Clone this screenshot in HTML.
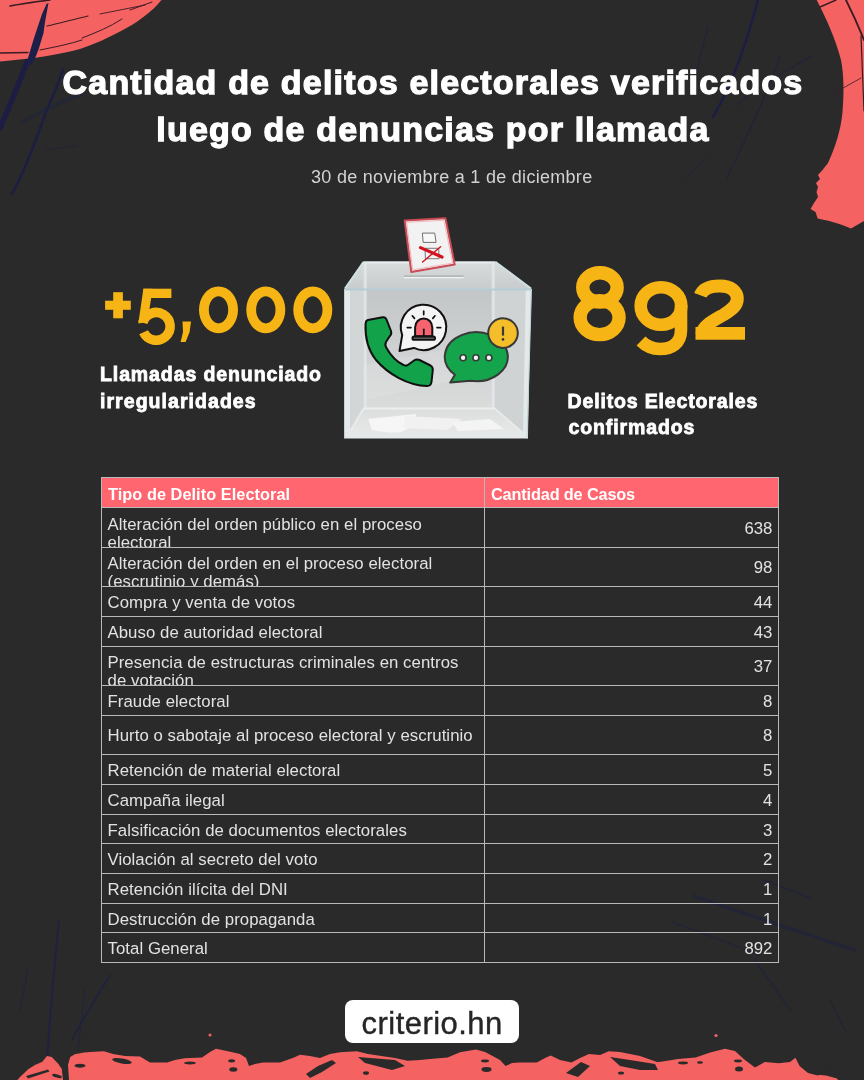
<!DOCTYPE html>
<html><head><meta charset="utf-8"><title>Delitos electorales</title>
<style>
html,body{margin:0;padding:0;}
body{width:864px;height:1080px;background:#2a2a2a;overflow:hidden;position:relative;font-family:"Liberation Sans",sans-serif;}
.a{position:absolute;}
.t{position:absolute;left:0;width:866px;text-align:center;color:#fff;font-weight:bold;font-size:34px;line-height:34px;letter-spacing:1.19px;white-space:nowrap;-webkit-text-stroke:1.3px #fff;}
.sub{position:absolute;left:311px;top:168px;color:#d2d2d2;font-size:18px;line-height:18px;letter-spacing:0.29px;white-space:nowrap;}
.lbl{position:absolute;color:#fff;font-weight:bold;font-size:19.5px;line-height:20px;letter-spacing:0.75px;white-space:nowrap;-webkit-text-stroke:0.8px #fff;}
.th{position:absolute;color:#fff;font-weight:bold;font-size:16.3px;line-height:16.3px;white-space:nowrap;}
.rw{position:absolute;left:102px;width:382px;overflow:hidden;}
.c1{position:absolute;left:5.5px;letter-spacing:0.06px;color:#e2e2e2;font-size:16.75px;line-height:16.75px;white-space:nowrap;}
.c2{position:absolute;right:91.6px;color:#e2e2e2;font-size:16.75px;line-height:16.75px;white-space:nowrap;}
.hl{position:absolute;left:101px;width:678px;height:1px;background:#b9b9b9;}
.vl{position:absolute;top:477px;width:1px;height:486px;background:#b9b9b9;}
</style></head><body>

<!-- background brushes -->
<svg class="a" style="left:0;top:0" width="864" height="1080" viewBox="0 0 864 1080">
  <defs><filter id="bl" x="-10%" y="-10%" width="120%" height="120%"><feGaussianBlur stdDeviation="0.5"/></filter></defs>
  <g fill="none" stroke="#1c1f48" stroke-linecap="round" filter="url(#bl)" opacity="0.85">
    <path d="M30,55 C27,62 24,70 20,80 C16,90 12,100 7,112 L0,128" stroke-width="5.5"/>
    <path d="M63,70 C58,85 52,98 46,112 C40,128 36,140 30,155 C24,170 18,183 12,194" stroke-width="2.6"/>
    <path d="M22,122 C40,112 60,102 82,94" stroke-width="3" opacity="0.45"/>
    <path d="M45,150 L76,146" stroke-width="0.9" opacity="0.5"/>
    <path d="M757.8,0 C750,30 735,80 713,117" stroke-width="2.6"/>
    <path d="M707.8,27.8 L691,91.7" stroke-width="1" opacity="0.8"/>
    <path d="M780,55.6 C765,100 745,140 727,177.8" stroke-width="1.1" opacity="0.8"/>
    <path d="M735.6,105.6 C760,85 790,68 813,55.6" stroke-width="1.1" opacity="0.7"/>
    <path d="M682.8,180.6 L707.8,155.6" stroke-width="1" opacity="0.6"/>
    <path d="M59,920 C56,950 52,990 50,1020 L47,1060" stroke-width="2" opacity="0.9"/>
    <path d="M28,968 L20,1010" stroke-width="1" opacity="0.8"/>
    <path d="M110,975 C98,995 85,1015 72,1040" stroke-width="1.8" opacity="0.8"/>
    <path d="M85,990 L78,1050" stroke-width="1" opacity="0.7"/>
    <path d="M694,896 C740,912 800,932 855,950" stroke-width="3" opacity="0.55"/>
    <path d="M764,880 L810,898" stroke-width="1.5" opacity="0.6"/>
    <path d="M672,922 C700,932 730,944 760,955" stroke-width="1.4" opacity="0.5"/>
    <path d="M755,960 C765,975 778,992 790,1010" stroke-width="2" opacity="0.5"/>
    <path d="M830,1000 L845,1030" stroke-width="1" opacity="0.5"/>
  </g>
  <g fill="#f46262">
    <path d="M0,0 H161.5 C152,12 135,24 122,30.5 C108,38 95,44 80,49 C60,54.5 35,58.5 0,61.5 Z"/>
    <path d="M816.7,0 C826,18 836,40 841,60 C844,75 844,95 842.5,112 C841,130 835,148 828,163 L822.5,170 L818,175 L820,179 L816,183 L818,187 L816.5,192 L818,197 L814,203 L810.5,209 L815.5,212 L817.7,218.5 C826,220 838,223 851,228.5 L864,221 V0 Z"/>
    <path d="M17.4,1080 L20,1077 L28.5,1069 L35,1065 L42.4,1061.7 L47,1056 L51.7,1057 L58,1063.5 L61.8,1069 L63,1080 L69,1080 L68,1065 L70.2,1057 L74.8,1054.3 L84,1052.4 L90,1052 L104,1051.3 L113,1054 L125,1056 L140,1056.5 L150,1062.6 L167,1062.6 L175,1060 L184.7,1058.2 L202,1057.4 L210,1052 L216,1048.7 L228,1051.3 L240,1053.9 L246,1058 L249,1066 L255,1064 L262.8,1062.6 L280,1062.6 L294,1057.4 L300,1054.8 L310,1056 L320,1058 L330,1054 L340,1052.2 L357,1051.3 L368,1054 L378,1055.6 L395,1058 L407.6,1060.8 L420,1060 L430,1059 L447.6,1057.4 L460,1052.2 L476,1049.5 L485,1052 L491.7,1055.6 L500,1060 L505.6,1066 L512,1063 L519.4,1062.6 L536.8,1062.6 L545,1058 L550.7,1055.6 L560,1060 L571.5,1062.6 L580,1058 L589,1053.9 L600,1055 L608.7,1051.3 L620,1052 L640,1056 L657,1062 L660.8,1061.7 L678,1059 L695.5,1057.4 L711,1052.2 L725,1048.7 L735,1051 L744,1059.2 L755,1067.5 L764.8,1062 L778.7,1063.3 L790,1062 L795.4,1057.8 L799.6,1066 L806,1071 L815,1074.5 L826,1075.5 L837,1078.6 L838,1080 Z"/>
    <circle cx="210" cy="1035" r="1.5"/><circle cx="716" cy="1035.5" r="1.6"/>
  </g>
  <g fill="#2a2a2a">
    <polygon points="26,1076 48,1069.5 49.5,1071.5 28,1078.5"/>
    <ellipse cx="57" cy="1076" rx="5" ry="1.6" transform="rotate(15 57 1076)"/>
    <ellipse cx="80" cy="1065.7" rx="5.5" ry="2"/>
    <ellipse cx="122" cy="1061" rx="10" ry="2.6" transform="rotate(10 122 1061)"/>
    <ellipse cx="233.3" cy="1069.5" rx="4" ry="2.2"/>
    <ellipse cx="231.6" cy="1060.8" rx="3.5" ry="1.6"/>
    <ellipse cx="190" cy="1063" rx="6" ry="1.5"/>
    <polygon points="358,1057 395,1060 405,1066 392,1070 365,1063"/>
    <polygon points="306,1074 318,1066 332,1060 336,1063 322,1072 310,1078"/>
    <ellipse cx="366" cy="1073" rx="3" ry="1.8"/>
    <ellipse cx="486.5" cy="1069.5" rx="5" ry="2.4"/>
    <ellipse cx="485" cy="1061" rx="4" ry="1.4"/>
    <polygon points="566,1073 581,1062 590,1066 578,1077"/>
    <polygon points="610,1057 630,1060 655,1064 658,1070 640,1070 620,1066"/>
    <ellipse cx="621" cy="1073" rx="3" ry="1.5"/>
    <ellipse cx="683" cy="1063" rx="5" ry="1.4"/>
    <ellipse cx="700" cy="1062.5" rx="3" ry="1.3"/>
    <ellipse cx="739" cy="1069" rx="4" ry="2.5"/>
    <ellipse cx="738" cy="1061" rx="4" ry="1.4"/>
    <polygon points="800,1066 812,1073 832,1062 835,1064 818,1075.5 808,1073"/>
  </g>
  <g fill="none" stroke="#3b1c22" stroke-linecap="round">
    <path d="M10,6 C20,4 35,2 50,0" stroke-width="1.6"/>
    <path d="M47,26 C60,23 75,19 88,16" stroke-width="1.2"/>
    <path d="M0,53 L28,52.5" stroke-width="1.3"/>
    <path d="M40,50 C55,47 70,44 82,40" stroke-width="1"/>
    <path d="M82,38 C95,33 110,27 122,19" stroke-width="1"/>
    <path d="M100,14 C115,11 130,8 145,5" stroke-width="0.9"/>
    <path d="M130,10 L152,2" stroke-width="1"/>
    <path d="M820,7 L836,0" stroke-width="1.4"/>
    <path d="M846,0 C852,12 858,25 864,40" stroke-width="1.8"/>
    <path d="M861,36 L864,111" stroke-width="1.2"/>
    <path d="M836,92 L861,78" stroke-width="0.8"/>
  </g>
  <g fill="none" stroke="#1c1f48" stroke-linecap="round">
    <polygon fill="#1c1f48" stroke="none" points="48.5,3 45,22 43.5,33 39,48 36,56 32,64 27,66 28,58 31,48 34,38 38,26 42,14 46.5,4"/>
  </g>
</svg>


<!-- title -->
<div class="t" style="top:64.8px">Cantidad de delitos electorales verificados</div>
<div class="t" style="top:112.4px">luego de denuncias por llamada</div>
<div class="sub">30 de noviembre a 1 de diciembre</div>

<!-- big numbers -->
<svg class="a" style="left:0;top:0" width="864" height="460" viewBox="0 0 864 460">
  <g fill="#f6b415">
    <rect x="113.2" y="292.2" width="9.7" height="26.1"/>
    <rect x="105.1" y="300.7" width="25.7" height="9.1"/>
    <rect x="143.4" y="288.7" width="28" height="9.3"/>
    <polygon points="143.4,288.7 152.6,288.7 148.4,316 147.5,322 138.3,323.5"/>
    <polygon points="182.5,321.5 191,321.5 189.6,332 185.6,342 180.6,342 183,332"/>
  </g>
  <g fill="none" stroke="#f6b415">
    <path d="M142.8,322.7 A13.9 13.9 0 1 1 143.6,332.2" stroke-width="9.6"/>
    <ellipse cx="218.5" cy="309.8" rx="14.6" ry="18.5" stroke-width="9.8"/>
    <ellipse cx="265.8" cy="309.8" rx="14.6" ry="18.5" stroke-width="9.8"/>
    <ellipse cx="312.8" cy="309.8" rx="14.6" ry="18.5" stroke-width="9.8"/>
    <ellipse cx="599.95" cy="287.45" rx="17.2" ry="14.65" stroke-width="13.4"/>
    <ellipse cx="599.6" cy="317.6" rx="19.45" ry="17" stroke-width="13.4"/>
    <ellipse cx="661" cy="306" rx="20.3" ry="18.8" stroke-width="12.6"/>
    <path d="M681,305 L681,330 C681,344 671,349 660,349 C652,349 646,346 641,341" stroke-width="12.6"/>
    <path d="M700.3,295.3 C703,288 711,285.9 720,285.9 C731,285.9 737.3,291.5 737.3,298.8 C737.3,305.5 732,309.5 724,314.5 C712,321.5 702.5,326 702,334" stroke-width="13"/>
    <path d="M695.5,333.3 H745" stroke-width="12.8"/>
  </g>
</svg>

<div class="lbl" style="left:100px;top:363.8px;letter-spacing:0.9px">Llamadas denunciado</div>
<div class="lbl" style="left:100px;top:390.9px;letter-spacing:1.05px">irregularidades</div>
<div class="lbl" style="left:567.5px;top:390.6px;letter-spacing:0.85px">Delitos Electorales</div>
<div class="lbl" style="left:568.5px;top:416.5px;letter-spacing:0.88px">confirmados</div>

<!-- BALLOT BOX -->
<svg class="a" style="left:330px;top:205px" width="220" height="245" viewBox="330 205 220 245">
  <defs>
    <linearGradient id="gback" x1="0" y1="0" x2="0" y2="1">
      <stop offset="0" stop-color="#c3c6c7"/>
      <stop offset="0.55" stop-color="#cfd1d2"/>
      <stop offset="1" stop-color="#dadbdb"/>
    </linearGradient>
    <linearGradient id="glid" x1="0" y1="0" x2="0" y2="1">
      <stop offset="0" stop-color="#d9dcdd"/>
      <stop offset="1" stop-color="#c9cccd"/>
    </linearGradient>
    <linearGradient id="gfloor" x1="0" y1="0" x2="0" y2="1">
      <stop offset="0" stop-color="#dcdddd"/>
      <stop offset="1" stop-color="#e6e7e7"/>
    </linearGradient>
  </defs>
  <!-- lid -->
  <polygon points="363,261.5 496,261.5 531.5,289 344.5,289" fill="url(#glid)"/>
  <path d="M364,262.5 H495" stroke="#e4ecee" stroke-width="2"/>
  <path d="M363.5,262 L345,288.5 M495.5,262 L531,288.5" stroke="#cfe0e4" stroke-width="2" fill="none"/>
  <!-- slot -->
  <path d="M404,276.2 H463.5" stroke="#a9acad" stroke-width="1.2"/>
  <path d="M404,277.6 H463.5" stroke="#f2f3f3" stroke-width="1.4"/>
  <!-- back wall -->
  <rect x="364" y="289" width="130" height="119" fill="url(#gback)"/>
  <!-- side walls -->
  <polygon points="344.5,289 364,289 364,408 349,433 344.5,438.5" fill="#d3d6d7"/>
  <polygon points="494,289 531.5,289 527,438.5 523,433 494,408" fill="#d0d3d4"/>
  <!-- floor -->
  <polygon points="364,408 494,408 523,433 349,433" fill="url(#gfloor)"/>
  <!-- reflection band -->
  <polygon points="364,365 494,340 494,372 364,400" fill="#ffffff" opacity="0.12"/>
  <!-- inner edges -->
  <path d="M365.2,262.5 V408 M493.2,262.5 V408" stroke="#e3e8e9" stroke-width="3" fill="none" opacity="0.85"/>
  <path d="M364,408.5 H494" stroke="#eceeee" stroke-width="2"/>
  <path d="M364,408 L349,433 M494,408 L523,433" stroke="#e8ebeb" stroke-width="2" fill="none"/>
  <!-- papers on floor -->
  <polygon points="368,419 416,414 413,427 396,434 372,430" fill="#f6f6f6"/>
  <polygon points="405,416 462,419 447,430 404,428" fill="#f1f1f1"/>
  <polygon points="452,422 490,419 504,429 458,431" fill="#f4f4f4"/>
  <!-- front frame -->
  <path d="M347.5,290 V436" stroke="#e6eaeb" stroke-width="5" fill="none"/>
  <path d="M528.3,290 L525.5,436" stroke="#e3e8e9" stroke-width="5" fill="none"/>
  <path d="M345,435.5 H528" stroke="#e5e9ea" stroke-width="6"/>
  <path d="M344.5,289.5 H531.5" stroke="#b6cdd4" stroke-width="2.2"/>
  <path d="M344.5,289 V438.5 M531.5,289 L527,438.5" stroke="#bfd2d7" stroke-width="1" fill="none"/>
</svg>

<svg class="a" style="left:330px;top:205px" width="220" height="245" viewBox="330 205 220 245">
  <!-- ballot paper -->
  <polygon points="404.7,220.5 445.4,218.3 454.7,264.6 411.3,272" fill="#f2f2f2" stroke="#c94b56" stroke-width="2" stroke-linejoin="round"/>
  <polygon points="406.6,222.3 443.8,220.3 452.6,263 412.8,269.8" fill="none" stroke="#f0b9bd" stroke-width="1"/>
  <polygon points="422.4,233.1 434.7,233.1 436.1,242.4 423.2,242.4" fill="#f8f8f8" stroke="#6f6f6f" stroke-width="1"/>
  <polygon points="425,248.3 438.7,248.3 439.1,258.7 425.4,258.7" fill="none" stroke="#7a7a7a" stroke-width="1"/>
  <path d="M420.5,247.6 L442,257" stroke="#d3141f" stroke-width="3.2" stroke-linecap="round"/>
  <path d="M422.6,262 L440.6,246.8" stroke="#d3141f" stroke-width="1.4" stroke-linecap="round"/>
  <!-- phone -->
  <path d="M366,322 Q366,320.5 368,320 L382.5,317.3 Q385.5,316.8 386.5,319.5 L391,331 Q392,334 389.5,336.5 L386,342 Q384.5,345 386.5,348 C391,356 397,362 403.5,365 Q406,366.5 408.5,364.5 L414,360.5 Q416.5,358.8 419.5,360 L430.5,365.5 Q433,367 432.8,370 L431.5,382 Q431,386 427,386 C408,385.5 388,374 376,360 C368,350 365,337 365.5,324 Z" fill="#12a24a" stroke="#111" stroke-width="2" stroke-linejoin="round"/>
  <!-- alarm bubble -->
  <path d="M402.2,335.1 L399.5,351 L413.9,347.9 A22.7 22.7 0 1 0 402.2,335.1 Z" fill="#f4f4f4" stroke="#111" stroke-width="2" stroke-linejoin="round"/>
  <g stroke="#111" stroke-width="1.7" stroke-linecap="round" fill="none">
    <path d="M423.7,311 V314.6 M412.3,315.8 L414.5,318.4 M435,315.8 L432.8,318.4 M407.3,327.6 H411 M437,327.6 H440.7"/>
  </g>
  <path d="M415.1,336.2 V327.4 A8.6 9 0 0 1 432.3,327.4 V336.2 Z" fill="#f7636f" stroke="#111" stroke-width="2"/>
  <path d="M423.8,329.3 V336" stroke="#111" stroke-width="1.7" stroke-linecap="round"/>
  <rect x="412.4" y="336.5" width="22.7" height="3.4" rx="1.7" fill="#5c5c5c" stroke="#111" stroke-width="1.8"/>
  <!-- green chat bubble -->
  <path d="M454.9,374.7 L450.3,382.6 L470.5,380.8 A31.5 24.5 0 1 0 454.9,374.7 Z" fill="#14a44b" stroke="#383838" stroke-width="2" stroke-linejoin="round"/>
  <g fill="#f6f6f6" stroke="#383838" stroke-width="1.6">
    <circle cx="463.1" cy="357.7" r="3"/>
    <circle cx="475.9" cy="357.7" r="3"/>
    <circle cx="488.9" cy="357.7" r="3"/>
  </g>
  <!-- warning -->
  <circle cx="503" cy="333.1" r="14.8" fill="#f3be29" stroke="#383838" stroke-width="2"/>
  <path d="M503,326.6 V335.6" stroke="#383838" stroke-width="2.2"/>
  <circle cx="503" cy="339.4" r="1.3" fill="#383838"/>
</svg>


<!-- table -->
<div class="a" style="left:102px;top:478px;width:676px;height:29px;background:#ff6670"></div>
<div class="th" style="left:108px;top:486.00px;letter-spacing:0.06px">Tipo de Delito Electoral</div>
<div class="th" style="left:491px;top:486.00px;letter-spacing:-0.15px">Cantidad de Casos</div>
<div class="rw" style="top:508px;height:39px"><div class="c1" style="top:8.52px">Alteración del orden público en el proceso</div><div class="c1" style="top:26.92px">electoral</div></div>
<div class="c2" style="top:520.82px">638</div>
<div class="rw" style="top:548px;height:38px"><div class="c1" style="top:7.52px">Alteración del orden en el proceso electoral</div><div class="c1" style="top:25.92px">(escrutinio y demás)</div></div>
<div class="c2" style="top:559.92px">98</div>
<div class="rw" style="top:587px;height:29px"><div class="c1" style="top:7.62px">Compra y venta de votos</div></div>
<div class="c2" style="top:595.12px">44</div>
<div class="rw" style="top:617px;height:29px"><div class="c1" style="top:8.22px">Abuso de autoridad electoral</div></div>
<div class="c2" style="top:625.42px">43</div>
<div class="rw" style="top:647px;height:38px"><div class="c1" style="top:7.72px">Presencia de estructuras criminales en centros</div><div class="c1" style="top:26.12px">de votación</div></div>
<div class="c2" style="top:659.02px">37</div>
<div class="rw" style="top:686px;height:29px"><div class="c1" style="top:8.02px">Fraude electoral</div></div>
<div class="c2" style="top:693.92px">8</div>
<div class="rw" style="top:716px;height:38px"><div class="c1" style="top:11.82px">Hurto o sabotaje al proceso electoral y escrutinio</div></div>
<div class="c2" style="top:727.82px">8</div>
<div class="rw" style="top:755px;height:29px"><div class="c1" style="top:7.82px">Retención de material electoral</div></div>
<div class="c2" style="top:762.82px">5</div>
<div class="rw" style="top:785px;height:29px"><div class="c1" style="top:8.02px">Campaña ilegal</div></div>
<div class="c2" style="top:793.02px">4</div>
<div class="rw" style="top:815px;height:28px"><div class="c1" style="top:7.72px">Falsificación de documentos electorales</div></div>
<div class="c2" style="top:822.72px">3</div>
<div class="rw" style="top:844px;height:29px"><div class="c1" style="top:8.42px">Violación al secreto del voto</div></div>
<div class="c2" style="top:852.42px">2</div>
<div class="rw" style="top:874px;height:29px"><div class="c1" style="top:8.02px">Retención ilícita del DNI</div></div>
<div class="c2" style="top:882.02px">1</div>
<div class="rw" style="top:904px;height:28px"><div class="c1" style="top:7.62px">Destrucción de propaganda</div></div>
<div class="c2" style="top:911.62px">1</div>
<div class="rw" style="top:933px;height:29px"><div class="c1" style="top:8.22px">Total General</div></div>
<div class="c2" style="top:941.22px">892</div>
<div class="hl" style="top:477px"></div>
<div class="hl" style="top:507px"></div>
<div class="hl" style="top:547px"></div>
<div class="hl" style="top:586px"></div>
<div class="hl" style="top:616px"></div>
<div class="hl" style="top:646px"></div>
<div class="hl" style="top:685px"></div>
<div class="hl" style="top:715px"></div>
<div class="hl" style="top:754px"></div>
<div class="hl" style="top:784px"></div>
<div class="hl" style="top:814px"></div>
<div class="hl" style="top:843px"></div>
<div class="hl" style="top:873px"></div>
<div class="hl" style="top:903px"></div>
<div class="hl" style="top:932px"></div>
<div class="hl" style="top:962px"></div>
<div class="vl" style="left:101px"></div>
<div class="vl" style="left:484px"></div>
<div class="vl" style="left:778px"></div>


<!-- footer -->
<div class="a" style="left:345px;top:999.5px;width:174px;height:43.5px;background:#fff;border-radius:8px"></div>
<div class="a" style="left:361.6px;top:1008px;font-size:31px;line-height:31px;color:#262626;letter-spacing:0.45px;-webkit-text-stroke:0.4px #262626;white-space:nowrap">criterio.hn</div>

</body></html>
